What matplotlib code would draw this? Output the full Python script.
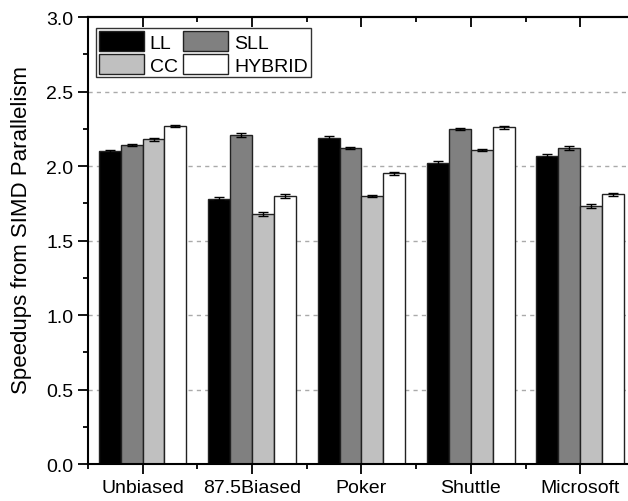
import numpy as np
import matplotlib
matplotlib.use("Agg")
import matplotlib.pyplot as plt
from matplotlib.ticker import MultipleLocator, FixedLocator

plt.rcParams['font.family'] = ['Liberation Sans', 'DejaVu Sans']

# speedups per dataset for each method
datasets = ["Unbiased", "87.5Biased", "Poker", "Shuttle", "Microsoft"]
methods = ["LL", "SLL", "CC", "HYBRID"]
ll = [2.10, 1.78, 2.19, 2.02, 2.07]
sll = [2.14, 2.21, 2.12, 2.25, 2.12]
cc = [2.18, 1.68, 1.80, 2.11, 1.73]
hybrid = [2.27, 1.80, 1.95, 2.26, 1.81]
ll_err = [0.010, 0.010, 0.012, 0.012, 0.010]
sll_err = [0.008, 0.015, 0.008, 0.008, 0.012]
cc_err = [0.010, 0.012, 0.008, 0.006, 0.012]
hybrid_err = [0.006, 0.012, 0.010, 0.010, 0.012]

colors = ["#000000", "#808080", "#c0c0c0", "#ffffff"]
values = [ll, sll, cc, hybrid]
errors = [ll_err, sll_err, cc_err, hybrid_err]

fig = plt.figure(figsize=(6.28, 5.02), dpi=100)
ax = fig.add_axes([0.140, 0.0737, 0.871, 0.8903])

x = np.arange(len(datasets))
w = 0.2
bars = []
for i, (vals, errs) in enumerate(zip(values, errors)):
    b = ax.bar(x + (i - 1.5) * w, vals, w, color=colors[i], edgecolor="#222222",
               linewidth=1.0, label=methods[i], zorder=2)
    bars.append(b)
    ax.errorbar(x + (i - 1.5) * w, vals, yerr=errs, fmt="none", ecolor="black",
                elinewidth=1.0, capsize=3.5, capthick=1.0, zorder=3)

ax.set_xlim(-0.5, len(datasets) - 0.5)
ax.set_ylim(0, 3.0)
ax.set_xticks(x)
ax.set_xticklabels(datasets)
ax.xaxis.set_minor_locator(FixedLocator(np.arange(-0.5, len(datasets), 1.0)))
ax.set_yticks(np.arange(0, 3.01, 0.5))
ax.set_yticklabels(["%.1f" % v for v in np.arange(0, 3.01, 0.5)])
ax.yaxis.set_minor_locator(MultipleLocator(0.25))

ax.tick_params(axis="both", which="major", labelsize=14, width=1.3, length=7,
               direction="out", top=False, right=False)
ax.tick_params(axis="both", which="minor", width=1.3, length=3.5,
               direction="out", top=False, right=False)

# inward ticks along the top edge
top = ax.secondary_xaxis("top")
top.set_xticks(x)
top.set_xticklabels([])
top.xaxis.set_minor_locator(FixedLocator(np.arange(-0.5, len(datasets), 1.0)))
top.tick_params(which="major", direction="in", length=7, width=1.3)
top.tick_params(which="minor", direction="in", length=3.5, width=1.3)
top.spines["top"].set_linewidth(1.5)

for s in ax.spines.values():
    s.set_linewidth(1.5)
ax.spines["right"].set_visible(False)

for yv in np.arange(0.5, 2.51, 0.5):
    ax.axhline(yv, color="#aaaaaa", linestyle=(0, (3, 3)), linewidth=1.0, zorder=1)

ax.set_ylabel("Speedups from SIMD Parallelism", fontsize=16)
ax.yaxis.set_label_coords(-0.102, 0.526)

# two columns: LL / SLL on top row, CC / HYBRID below
order = [0, 2, 1, 3]
leg = ax.legend([bars[k] for k in order], [methods[k] for k in order], ncol=2,
                loc="upper left", bbox_to_anchor=(0.015, 0.975), fontsize=14,
                frameon=True, fancybox=False, edgecolor="#333333", framealpha=1,
                handlelength=2.3, handleheight=1.2, handletextpad=0.3,
                labelspacing=0.12, columnspacing=0.3, borderpad=0.15,
                borderaxespad=0.0)
leg.get_frame().set_linewidth(1.0)

fig.savefig("out.png", dpi=100)
